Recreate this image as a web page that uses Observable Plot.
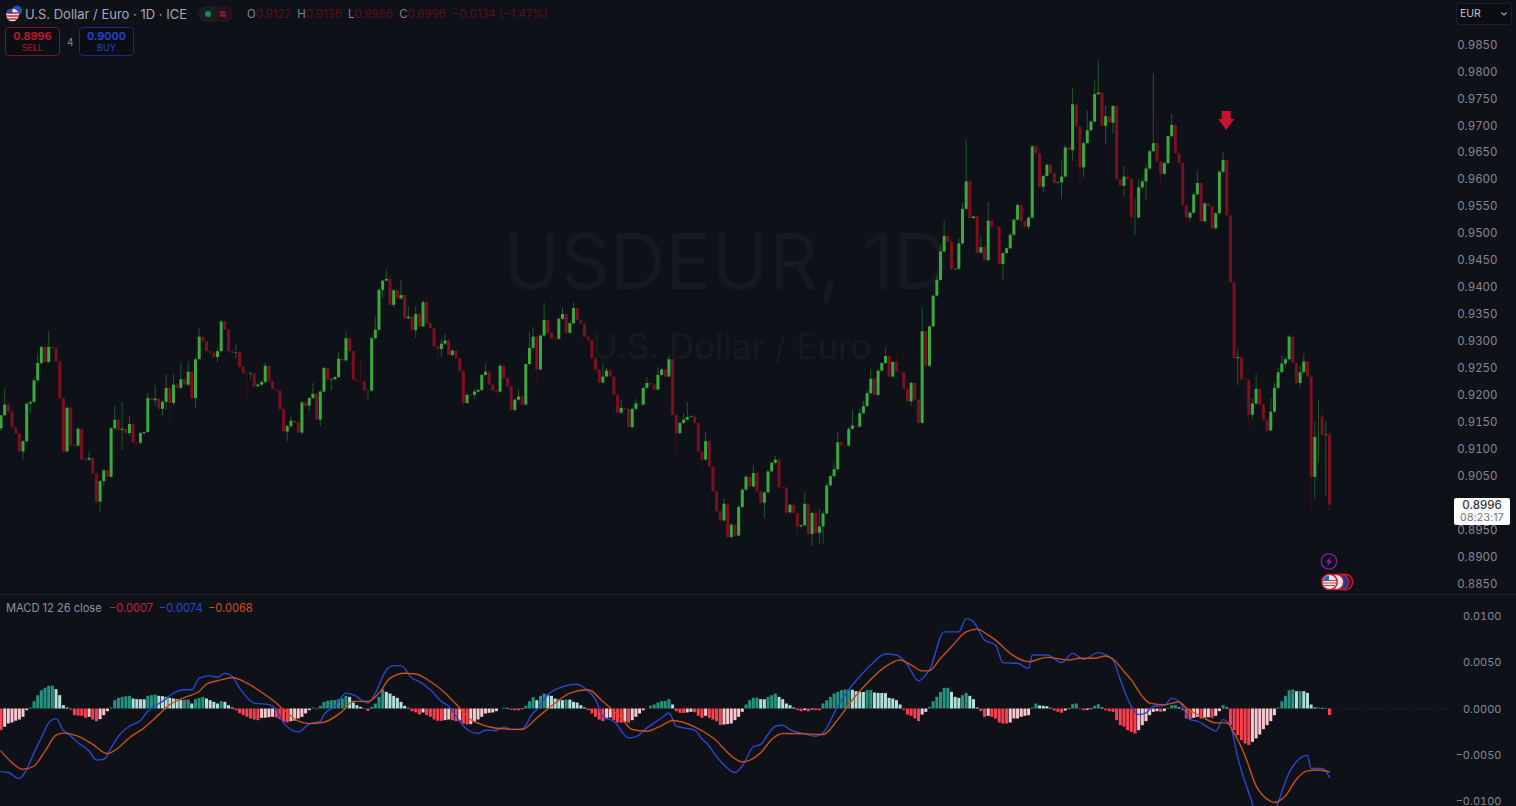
<!DOCTYPE html>
<html><head><meta charset="utf-8">
<script src="https://cdn.jsdelivr.net/npm/d3@7"></script>
<script src="https://cdn.jsdelivr.net/npm/@observablehq/plot@0.6"></script>
<style>
html,body{margin:0;padding:0;background:#0e1118;overflow:hidden}
#page{position:relative;width:1516px;height:806px;font-family:Inter,"Noto Sans",sans-serif;background:#0e1118;overflow:hidden}
#page svg{display:block}
.t{position:absolute;white-space:pre;line-height:1}
#main,#macd{position:absolute;left:0}
#main{top:0}#macd{top:594px}
.box{position:absolute;box-sizing:border-box;border-radius:4px;text-align:center}
</style></head><body>
<div id="page">
<div class="t" style="left:503px;top:223px;font-size:77px;color:#161920">USDEUR, 1D</div>
<div class="t" style="left:592px;top:329px;font-size:34.8px;color:#161920">U.S. Dollar / Euro</div>
<div id="main"></div>
<div id="macd"></div>
<div style="position:absolute;left:0;top:594px;width:1516px;height:1px;background:#1f222a"></div>

<svg style="position:absolute;left:5px;top:4px" width="20" height="20" viewBox="0 0 20 20">
<circle cx="12" cy="6.5" r="5" fill="#1d4fb8"/><circle cx="7.5" cy="11" r="6.3" fill="#e9e9ef"/>
<path d="M1.6 9h11.8M1.2 12h12.6M2.4 15h10.2" stroke="#d3242f" stroke-width="1.5"/><path d="M7.5 4.7a6.3 6.3 0 0 0-6 4.6h6z" fill="#2a4aa8"/></svg>
<div class="t" style="left:25px;top:7.5px;font-size:13px;color:#a6a9b1">U.S. Dollar / Euro · 1D · ICE</div>
<div style="position:absolute;left:198px;top:6px;width:35px;height:16px;border-radius:8px;background:#15201f;overflow:hidden">
<div style="position:absolute;right:0;top:0;width:16px;height:16px;background:#2a1019"></div>
<div style="position:absolute;left:7px;top:5px;width:6px;height:6px;border-radius:50%;background:#14896f"></div>
<div class="t" style="left:21px;top:2px;font-size:11px;color:#c21f48">≈</div></div>
<div class="t" style="left:247px;top:8.5px;font-size:11.4px;color:#80838b">O<span style="color:#5f0f1d">0.9127</span>  H<span style="color:#5f0f1d">0.9136</span>  L<span style="color:#5f0f1d">0.8986</span>  C<span style="color:#5f0f1d">0.8996  −0.0134 (−1.47%)</span></div>

<div class="box" style="left:5px;top:27px;width:55px;height:29px;border:1px solid #7a1726;background:#0b0d12">
<div style="color:#c8172f;font-size:11px;font-weight:600;margin-top:2px;line-height:12px">0.8996</div><div style="color:#9a1626;font-size:9px;line-height:12px;font-weight:500">SELL</div></div>
<div class="t" style="left:67px;top:37px;font-size:10px;color:#85888f">4</div>
<div class="box" style="left:79px;top:27px;width:55px;height:29px;border:1px solid #182c7c;background:#0b0d12">
<div style="color:#2343d6;font-size:11px;font-weight:600;margin-top:2px;line-height:12px">0.9000</div><div style="color:#2340b8;font-size:9px;line-height:12px;font-weight:500">BUY</div></div>

<div class="box" style="left:1456px;top:3px;width:56px;height:22px;border:1px solid #1d2027;background:#0a0c11"></div>
<div class="t" style="left:1460px;top:9px;font-size:10.5px;color:#c4c6cc">EUR</div>
<svg style="position:absolute;left:1500px;top:11px" width="8" height="6"><path d="M1.5 1.5L4 4l2.5-2.5" fill="none" stroke="#a8abb2" stroke-width="1.1"/></svg>

<div class="box" style="left:1454px;top:498px;width:56px;height:27px;background:#fff;border-radius:2px">
<div style="color:#33363c;font-size:11.5px;font-weight:500;margin-top:1px;line-height:13px">0.8996</div>
<div style="color:#6c6f76;font-size:10.5px;line-height:12px;letter-spacing:.2px">08:23:17</div></div>

<svg style="position:absolute;left:1315px;top:550px" width="42" height="44">
<circle cx="14" cy="11.5" r="7.7" fill="none" stroke="#8a1f9c" stroke-width="1.3"/>
<path d="M16.2 6.5L10.6 12.6h3L11.8 16.8l5.6-6.1h-3z" fill="#8a1f9c"/>
<circle cx="30" cy="32" r="7.7" fill="#1c1015" stroke="#d3142c" stroke-width="1.5"/>
<circle cx="26" cy="32" r="7.7" fill="#123d9a" stroke="#d3142c" stroke-width="1.5"/>
<circle cx="21" cy="32" r="7.7" fill="#e4e4ea" stroke="#d3142c" stroke-width="1.5"/>
<circle cx="14.5" cy="32" r="7.7" fill="#e4e4ea" stroke="#d3142c" stroke-width="1.5"/>
<path d="M8 30.5h13M8 33h13M9 35.5h11" stroke="#d3424f" stroke-width="1.1"/>
<path d="M14 25.5a6.5 6.5 0 0 0-5.8 5.5H14z" fill="#2f62b8"/></svg>

<div class="t" style="left:6px;top:602.5px;font-size:11.1px;color:#8e9198">MACD 12 26 close</div>
<div class="t" style="left:109px;top:602.5px;font-size:11.1px;color:#c5203c">−0.0007</div>
<div class="t" style="left:159px;top:602.5px;font-size:11.1px;color:#2a48d8">−0.0074</div>
<div class="t" style="left:208px;top:602.5px;font-size:11.1px;color:#d64d16">−0.0068</div>
</div>
<script>
// Daily closes in 1/10000 of a dollar-euro unit
const closes = [
9162,9182,9169,9140,9128,9095,9114,9184,9187,9227,
9259,9289,9261,9289,9287,9262,9194,9095,9176,9106,
9106,9137,9080,9080,9083,9054,9002,9040,9060,9048,
9138,9154,9135,9137,9129,9146,9112,9111,9129,9131,
9194,9190,9193,9174,9187,9213,9185,9219,9213,9229,
9219,9243,9194,9266,9308,9299,9281,9278,9270,9281,
9336,9321,9281,9278,9279,9252,9240,9239,9240,9216,
9219,9224,9254,9225,9210,9208,9174,9132,9142,9152,
9149,9130,9186,9180,9194,9202,9154,9206,9250,9228,
9229,9233,9267,
9264,9305,9281,9228,9226,9225,9208,9208,9305,9321,
9395,9412,9415,9367,9394,9379,9385,9342,9345,9320,
9350,9327,9372,9333,9324,9290,9285,9295,9301,9274,
9282,9268,9244,9185,9200,9200,9206,9209,9237,9243,
9219,9208,9206,9254,9231,9216,9172,9191,9197,9182,
9257,9287,9308,9247,9310,9339,9315,9305,9304,9341,
9350,9315,9333,9361,9339,9332,9308,9302,9268,9247,
9223,9234,9245,9234,9200,9167,9176,9174,9140,9174,
9184,9182,9213,9222,9219,9210,9237,9247,9234,9266,
9163,9129,9148,
9154,9159,9160,9148,9095,9080,9114,9067,9021,8984,
8967,8998,8936,8959,8939,8992,9024,9048,9030,9055,
9021,9000,9019,9058,9074,9080,9029,9028,8982,8996,
8981,8956,8958,8998,8942,8981,8944,8956,8980,9032,
9049,9062,9112,9107,9106,9137,9143,9141,9166,9179,
9203,9230,9200,9245,9259,9272,9234,9261,9243,9242,
9211,9188,9222,9191,9148,9318,9254,9327,9384,9413,
9466,9495,9484,9433,9434,9481,9545,9596,9528,9531,
9464,9474,9450,9523,9512,9511,9443,9463,9472,9497,
9525,9552,
9522,9512,9529,9661,9648,9586,9606,9627,9611,9593,
9594,9605,9659,9654,9739,9698,9622,9667,9691,9707,
9758,9761,9699,9717,9705,9736,9600,9588,9605,9600,
9529,9529,9585,9596,9620,9652,9667,9633,9610,9630,
9680,9701,9648,9630,9552,9529,9538,9572,9593,9522,
9555,9550,9509,9537,9614,9636,9533,9409,
9268,9270,9229,9228,9163,9184,9211,9182,9154,9134,
9169,9213,9242,9258,9266,9308,9259,9222,9242,9262,
9234,9048,9122,9160,9126,9127,8996];
// Sessions whose open differs from the previous close: [session, open]
const openGaps = [[0,9138],[359,9160]];
// Upper wick above the body, same units
const upperWicks = [
0,30,5,5,0,2,2,0,2,5,18,2,2,30,2,2,5,3,2,3,3,3,3,2,12,2,2,2,2,2,
3,25,3,50,3,15,5,2,3,2,10,3,25,3,3,25,5,20,2,30,5,20,2,3,15,3,2,2,2,5,
3,2,3,3,15,2,2,2,3,2,2,3,6,2,2,2,2,2,2,8,2,2,2,2,2,20,2,2,2,2,2,2,12,
2,12,3,3,2,40,3,2,3,25,3,2,18,8,2,2,28,2,18,2,15,2,3,12,2,2,2,8,12,5,
3,3,3,3,5,2,5,2,2,15,3,2,2,3,2,2,2,2,15,2,2,30,18,3,2,32,2,2,2,3,
12,2,2,10,2,2,2,2,2,2,2,25,5,2,2,2,15,2,2,2,8,2,2,10,2,2,15,3,2,8,2,2,2,
12,28,3,3,2,2,18,3,3,2,2,10,3,3,2,3,3,3,2,15,2,2,2,3,3,7,2,2,3,2,
2,3,2,22,2,3,10,33,5,5,2,12,20,2,2,3,30,2,8,10,5,18,3,2,2,15,3,2,10,2,
2,2,2,2,2,45,2,2,2,8,12,28,8,8,2,10,12,78,3,2,2,20,3,35,8,2,2,2,2,2,2,3,
3,2,2,3,3,10,3,2,2,2,2,30,5,3,30,3,3,3,37,3,25,60,2,20,2,2,3,2,20,12,
2,35,15,3,8,3,130,55,2,3,2,20,3,2,2,2,2,5,22,2,2,2,2,2,3,15,2,2,
2,15,2,2,2,10,28,3,2,2,25,10,8,15,5,3,2,2,12,15,2,2,28,31,15,24,9];
// Lower wick below the body, same units
const lowerWicks = [
5,0,3,3,2,3,15,3,18,3,3,2,3,2,1,2,2,2,2,2,2,2,2,2,3,2,5,18,10,1,
2,3,3,37,5,5,2,8,3,3,2,2,10,5,12,15,35,5,2,3,3,3,3,18,0,0,2,2,2,10,
2,2,2,2,10,3,2,48,10,2,2,2,2,2,2,2,2,3,18,3,2,2,2,2,8,2,3,12,2,2,20,2,2,
2,2,2,2,2,3,5,18,2,2,3,15,2,3,5,3,3,2,2,3,14,2,2,3,2,2,30,15,3,3,
3,2,2,3,2,2,8,2,2,2,2,2,10,2,5,5,3,3,3,2,2,2,2,25,2,2,3,2,2,2,
2,2,2,2,2,2,2,2,2,2,2,2,2,2,2,2,2,2,2,2,2,2,2,2,2,2,2,2,2,2,2,38,2,
2,2,2,2,2,20,2,2,2,2,2,2,2,2,2,2,2,2,2,2,3,3,30,2,2,2,2,8,2,2,
2,20,2,2,2,22,2,20,33,2,2,2,2,2,2,2,2,2,2,2,2,2,2,2,2,2,2,2,2,2,
2,5,8,2,2,0,2,2,2,2,2,2,2,2,2,3,3,2,3,2,2,2,3,3,2,2,3,30,2,2,2,2,
10,3,5,2,2,2,10,2,2,2,2,30,2,2,20,2,35,18,2,2,2,2,2,35,2,20,2,2,20,2,
20,32,2,3,35,3,2,2,25,2,2,2,2,2,2,12,8,2,2,2,2,2,3,2,2,2,2,2,
2,50,3,35,22,8,2,2,2,2,2,2,2,2,5,2,2,2,8,2,2,60,42,86,2,113,10];

// MACD histogram per session, in 1/100000
const histogram = [
-234,-198,-162,-151,-133,-119,-90,-18,11,79,
144,198,223,245,246,209,144,36,11,-11,
-72,-76,-79,-101,-90,-119,-137,-115,-72,-29,
11,90,115,126,133,137,108,101,100,99,
137,144,151,137,133,126,115,108,101,90,
94,97,54,101,115,126,108,90,72,54,
79,72,36,11,-18,-50,-72,-90,-108,-119,
-126,-101,-100,-94,-90,-97,-115,-144,-151,-137,
-130,-108,-90,-54,-18,11,-7,29,72,83,
90,91,101,108,137,126,65,36,18,-7,
-25,18,54,126,209,180,162,137,115,72,
29,7,-29,-43,-65,-43,-72,-90,-119,-133,
-134,-126,-119,-126,-137,-130,-162,-173,-169,-144,
-119,-90,-54,-47,-43,-29,-1,11,7,-14,
-18,-19,-7,29,79,122,90,137,162,144,
137,108,97,90,97,96,72,65,36,11,
-18,-54,-90,-119,-137,-115,-97,-126,-151,-152,
-144,-151,-126,-90,-54,-18,-1,29,43,65,
79,80,101,43,-29,-47,-48,-43,-36,-40,
-79,-101,-79,-101,-119,-137,-180,-173,-169,-162,
-126,-90,-36,43,90,115,116,101,100,126,
144,162,126,101,54,36,11,-18,-29,-18,
-29,-11,-18,-19,54,90,126,162,180,198,
205,206,202,187,180,179,198,199,173,169,
168,167,115,108,90,43,-14,-65,-79,-108,
-137,-65,-36,18,79,126,180,223,224,180,
126,115,144,169,137,101,11,-29,-90,-79,
-90,-108,-151,-162,-163,-151,-108,-107,-90,-79,
-72,11,54,32,29,25,7,-22,-36,-47,
-22,-7,47,54,-7,-18,-14,-7,29,47,
11,-18,-29,-36,-126,-180,-198,-234,-252,-270,
-234,-180,-137,-72,-36,-29,-36,-29,7,36,
37,11,-18,-108,-119,-101,-90,-108,-97,-94,
-101,-79,-29,36,11,-180,-234,-288,-342,-378,
-396,-360,-324,-281,-223,-180,-137,-72,11,79,
137,198,205,187,188,187,169,43,11,12,
7,8,-70];

// MACD line, sampled at turning points: session and value in 1/100000
const macdSessions = [0,2,5,7,9,11,13,15,17,18,21,24,26,28,30,32,35,38,40,44,47,50,52,54,57,59,61,63,65,69,73,75,77,81,84,87,88,91,94,96,100,102,
105,107,109,112,114,117,120,122,125,127,130,132,135,137,139,142,145,146,149,152,157,159,162,164,167,171,173,176,180,182,184,189,191,192,196,200,202,205,
207,209,211,213,215,219,222,224,228,231,234,237,241,244,247,250,252,253,257,261,263,265,268,271,273,277,280,281,285,289,292,295,299,303,305,308,310,
312,314,317,319,321,324,326,330,331,333,335,337,341,343,346,348,351,356,357,360,361,362];
const macdValues = [-677,-687,-752,-652,-473,-311,-150,-104,-233,-258,-365,-455,-551,-544,-419,-294,-186,-125,-25,82,172,208,208,333,358,344,387,351,226,64,47,-7,-150,-247,-161,-132,-61,29,172,154,64,172,
422,469,469,333,297,208,82,29,-132,-222,-265,-229,-233,-193,-222,-215,-43,-7,154,226,268,226,100,-79,-132,-311,-301,-204,-97,-43,-186,-229,-322,-358,-562,-687,-616,-408,
-383,-276,-186,-175,-222,-268,-294,-258,29,208,351,476,594,584,476,304,369,422,834,834,977,942,745,691,501,494,440,584,584,501,601,537,609,530,315,29,-61,
-43,29,36,118,82,-115,-132,-222,-240,-115,-186,-526,-1027,-1296,-1189,-1010,-687,-501,-644,-644,-669,-741];
// Signal line, same units
const signalSessions = [0,3,6,9,12,15,17,21,25,29,32,35,39,43,46,50,54,56,60,63,67,72,75,78,81,84,88,93,96,100,
103,106,110,113,117,122,125,128,131,135,142,146,151,155,160,164,169,172,176,180,183,189,194,200,202,
207,210,213,219,224,228,232,236,241,245,248,251,253,256,259,263,266,269,271,275,280,285,291,294,298,301,303,306,308,311,
313,317,321,323,327,331,334,336,339,342,345,347,350,353,356,359,362];
const signalValues = [-455,-580,-652,-616,-455,-283,-261,-294,-383,-483,-419,-311,-204,-61,47,125,190,268,315,340,279,154,64,-43,-132,-158,-143,-25,82,82,
172,333,387,379,297,136,11,-115,-168,-208,-222,-97,64,172,208,82,-97,-222,-240,-179,-125,-193,-311,-537,-573,
-473,-329,-265,-268,-276,-115,100,279,458,530,476,412,415,548,673,834,863,798,745,601,512,558,530,548,548,573,541,405,315,136,
64,47,75,11,-79,-150,-150,-258,-508,-831,-974,-1010,-938,-759,-669,-659,-680];

// 0.9000 sits under the white last-price label in the reference and is not shown
const priceTicks = [0.885,0.89,0.895,0.905,0.91,0.915,0.92,0.925,0.93,0.935,0.94,0.945,0.95,0.955,0.96,0.965,0.97,0.975,0.98,0.985];
const macdTicks = [-0.01,-0.005,0,0.005,0.01];
const sellSignals = [{session:334, price:0.9710}];

const GREEN="#3aa93e", GREEN_W="#1d5b28", RED="#7d0f22", RED_W="#470c18";
const candles = closes.map((c,i)=>{
  const gap = openGaps.find(g=>g[0]===i);
  const o = gap ? gap[1] : closes[i-1];
  const up = c>=o;
  return {i, open:o/1e4, close:c/1e4,
    high:(Math.max(o,c)+upperWicks[i])/1e4, low:(Math.min(o,c)-lowerWicks[i])/1e4, up};
});
const hist = histogram.map((v,i)=>{
  const p = i? histogram[i-1] : v+1;
  return {i, v:v/1e5, color: v>=0 ? (v>=p?"#25917f":"#b2dfd9") : (v<p?"#f9404f":"#fcc7cf")};
});
const macdLine = macdSessions.map((s,k)=>({i:s,v:macdValues[k]/1e5}));
const signalLine = signalSessions.map((s,k)=>({i:s,v:signalValues[k]/1e5}));

const xScale = {domain:[0,362], range:[0.5,1329], axis:null};
const arrowDown = {draw(ctx){
  ctx.moveTo(-4.5,-9.5);ctx.lineTo(4.5,-9.5);ctx.lineTo(4.5,-1.5);ctx.lineTo(8,-1.5);
  ctx.lineTo(0,9.5);ctx.lineTo(-8,-1.5);ctx.lineTo(-4.5,-1.5);ctx.closePath();}};

const main = Plot.plot({
  width:1516,height:594,marginTop:0,marginLeft:0,marginBottom:0,marginRight:19,
  x:xScale,
  y:{domain:[0.885,0.985],range:[583.5,44.5],axis:null},
  style:{background:"transparent",overflow:"visible"},
  marks:[
    Plot.ruleX(candles,{x:"i",y1:"low",y2:"high",stroke:d=>d.up?GREEN_W:RED_W,strokeWidth:1}),
    Plot.ruleX(candles,{x:"i",y1:"open",y2:"close",stroke:d=>d.up?GREEN:RED,strokeWidth:3}),
    Plot.dot(sellSignals,{x:"session",y:"price",symbol:arrowDown,r:8,fill:"#c5142f",stroke:null,dx:-0.5}),
    Plot.axisY(priceTicks,{anchor:"right",tickSize:0,tickPadding:0,tickFormat:d3.format(".4f"),
      textAnchor:"end",fill:"#85888f",fontSize:11.5,fontFamily:"Inter",label:null})
  ]
});
document.getElementById("main").append(main);

const macdPlot = Plot.plot({
  width:1516,height:212,marginTop:0,marginLeft:0,marginBottom:0,marginRight:15,
  x:xScale,
  y:{domain:[-0.01,0.01],range:[207,22],axis:null},
  style:{background:"transparent",overflow:"hidden"},
  marks:[
    Plot.ruleY([0],{x1:362,x2:396,stroke:"#2a2d35",strokeWidth:1,strokeDasharray:"1,2"}),
    Plot.ruleX(hist,{x:"i",y1:0,y2:"v",stroke:"color",strokeWidth:3}),
    Plot.line(macdLine,{x:"i",y:"v",stroke:"#2a47d0",strokeWidth:1.4,curve:"monotone-x"}),
    Plot.line(signalLine,{x:"i",y:"v",stroke:"#c8501a",strokeWidth:1.4,curve:"monotone-x"}),
    Plot.axisY(macdTicks,{anchor:"right",tickSize:0,tickPadding:0,tickFormat:d3.format(".4f"),
      textAnchor:"end",fill:"#85888f",fontSize:11,fontFamily:"Inter",label:null})
  ]
});
document.getElementById("macd").append(macdPlot);
</script>
</body></html>
